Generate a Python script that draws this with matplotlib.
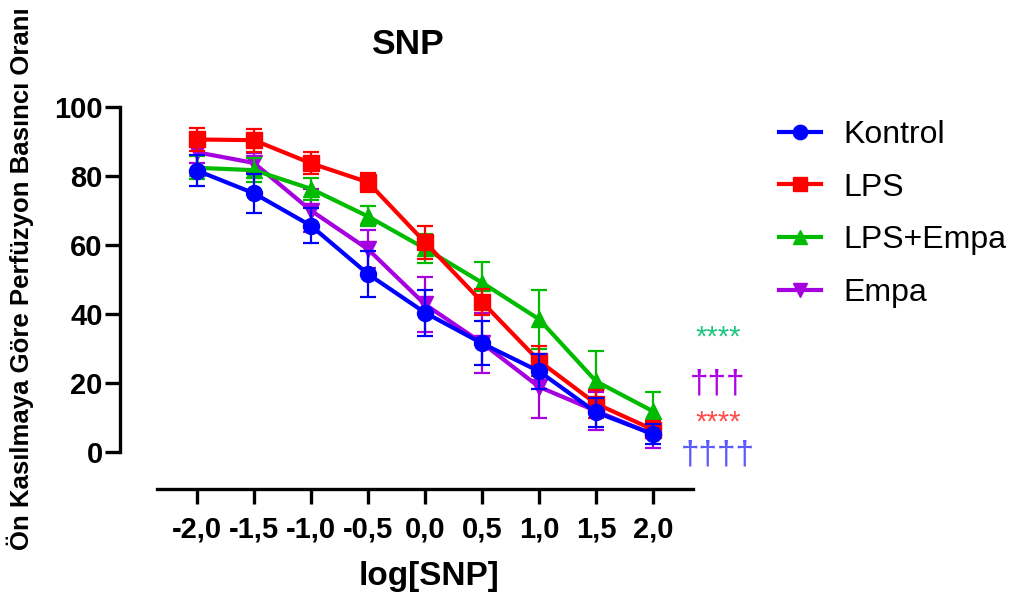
import matplotlib
matplotlib.use("Agg")
import matplotlib.pyplot as plt
from matplotlib.ticker import FixedLocator, FuncFormatter

plt.rcParams['font.family'] = ['Liberation Sans', 'DejaVu Sans']

# log[SNP] doses
log_snp = [-2.0, -1.5, -1.0, -0.5, 0.0, 0.5, 1.0, 1.5, 2.0]

# mean ± error for each group
kontrol = [81.5, 74.9, 65.5, 51.5, 40.3, 31.4, 23.3, 11.4, 5.1]
kontrol_err = [4.5, 5.7, 5.1, 6.8, 6.7, 6.4, 5.0, 4.2, 2.8]

lps = [90.5, 90.3, 83.6, 78.1, 60.7, 43.4, 26.3, 13.9, 6.4]
lps_err = [3.3, 3.3, 3.2, 2.7, 4.8, 3.7, 4.4, 4.0, 2.5]

lps_empa = [82.3, 81.6, 76.2, 68.2, 58.9, 49.0, 38.4, 20.4, 11.7]
lps_empa_err = [3.3, 3.4, 3.1, 2.9, 4.1, 6.0, 8.6, 8.8, 5.5]

empa = [86.8, 83.7, 69.9, 58.7, 42.7, 31.5, 18.8, 11.8, 5.0]
empa_err = [3.0, 3.0, 6.3, 5.5, 8.0, 8.7, 9.0, 5.5, 4.0]

groups = ["Kontrol", "LPS", "LPS+Empa", "Empa"]
colors = ["#0000ff", "#ff0000", "#00bb00", "#a600e0"]
markers = ["o", "s", "^", "v"]
means = [kontrol, lps, lps_empa, empa]
errors = [kontrol_err, lps_err, lps_empa_err, empa_err]

x_ticks = [-2.0, -1.5, -1.0, -0.5, 0.0, 0.5, 1.0, 1.5, 2.0]
y_ticks = [0, 20, 40, 60, 80, 100]

W, H = 1009, 596
fig = plt.figure(figsize=(W / 100, H / 100), dpi=100)
ax = fig.add_axes([157 / W, (H - 489.3) / H, (693 - 157) / W, (489.3 - 106.7) / H])

handles = []
for i, (name, c, m, y, e) in enumerate(zip(groups, colors, markers, means, errors)):
    z = 10 - i
    ax.errorbar(log_snp, y, yerr=e, fmt="none", ecolor=c, elinewidth=1.6,
                capsize=5.5, capthick=1.6, zorder=z, clip_on=False)
    h, = ax.plot(log_snp, y, color=c, lw=3.0, marker=m, markersize=11.5,
                 markeredgecolor=c, markerfacecolor=c, zorder=z + 0.5,
                 clip_on=False, label=name)
    handles.append(h)

ax.set_xlim(-2.35, 2.35)
ax.set_ylim(-10.9, 100)

for side in ("top", "right"):
    ax.spines[side].set_visible(False)
ax.spines["left"].set_position(("outward", 37 * 0.72))
ax.spines["left"].set_bounds(0, 100)
for side in ("left", "bottom"):
    ax.spines[side].set_linewidth(2.4)

ax.xaxis.set_major_locator(FixedLocator(x_ticks))
ax.xaxis.set_major_formatter(FuncFormatter(lambda v, p: f"{v:.1f}".replace(".", ",")))
ax.yaxis.set_major_locator(FixedLocator(y_ticks))
ax.tick_params(axis="both", width=2.4, length=11, labelsize=21)
ax.tick_params(axis="x", pad=8)
ax.tick_params(axis="y", pad=1.5)
for lab in ax.get_xticklabels() + ax.get_yticklabels():
    lab.set_fontweight("bold")

fig.text(429 / W, 1 - 577 / H, "log[SNP]", ha="center", va="center",
         fontsize=24, fontweight="bold")
fig.text(20 / W, 1 - 279 / H, "Ön Kasılmaya Göre Perfüzyon Basıncı Oranı",
         rotation=90, ha="center", va="center", fontsize=18.5, fontweight="bold")
fig.text(407 / W, 1 - 44 / H, "SNP", ha="center", va="center",
         fontsize=25.5, fontweight="bold")

fig.legend(handles=handles, loc="upper left", bbox_to_anchor=(779 / W, 1 - 120 / H),
           frameon=False, fontsize=23, handlelength=1.3, handletextpad=0.7,
           labelspacing=0.71, markerscale=0.9, borderaxespad=0, borderpad=0)

# significance marks beside the highest dose
marks = [("****", "#20c47c", 338, 21), ("†††", "#b000e6", 384, 24),
         ("****", "#ff4a4a", 423, 21), ("††††", "#5a5aff", 455, 24)]
for txt, c, ypix, fs in marks:
    fig.text(718 / W, 1 - ypix / H, txt, color=c, ha="center", va="center", fontsize=fs)

fig.savefig("out.png", dpi=100)
